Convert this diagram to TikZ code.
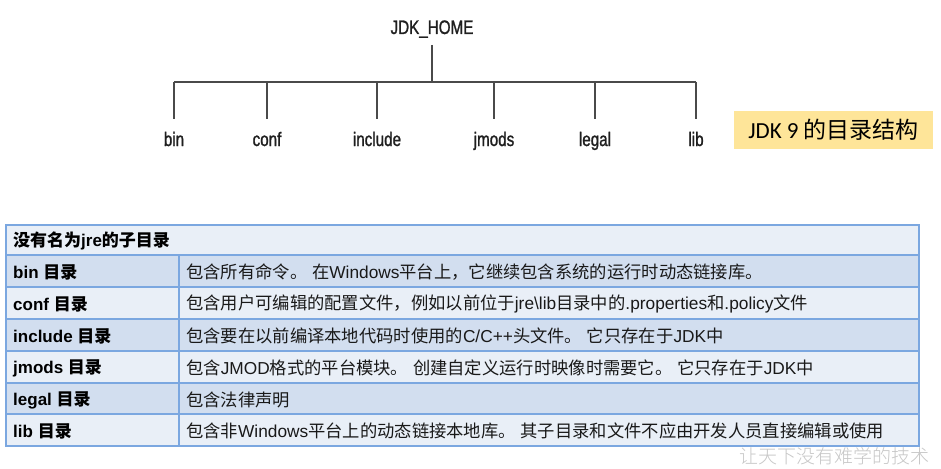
\documentclass[tikz,border=0pt]{standalone}
\usepackage{fontspec}
\setmainfont{Liberation Sans}
\newfontfamily\treefont[FakeStretch=0.78,FakeBold=1.2]{Liberation Sans}
\newfontfamily\cjk{Noto Sans CJK SC}
\newfontfamily\cjkb{Noto Sans CJK SC Bold}
\newfontfamily\capfont{Carlito}
\newfontfamily\wmfont{Noto Sans CJK SC Light}
\definecolor{rowdark}{HTML}{D2DEEF}
\definecolor{rowlight}{HTML}{E9EFF7}
\definecolor{tblborder}{HTML}{7BA7E0}
\definecolor{capbg}{HTML}{FEE599}
\definecolor{treeline}{HTML}{4A4A4A}
\newcommand{\lt}[1]{{\fontsize{17}{20}\selectfont\bfseries #1}}
\newcommand{\rt}[1]{{\fontsize{17.3}{20}\selectfont #1}}
\begin{document}
\begin{tikzpicture}[x=1pt,y=-1pt,
  treelabel/.style={inner sep=0pt,anchor=base,font=\treefont\fontsize{19.5}{22}\selectfont,text=black!88},
  treeedge/.style={draw=treeline,line width=1.7pt},
  leftcell/.style={anchor=west,inner sep=0pt,text=black},
  rightcell/.style={anchor=west,inner sep=0pt,text=black!90}]
\useasboundingbox (0,0) rectangle (941,468);
\fill[white] (0,0) rectangle (941,468);
% tree
\node[treelabel] (root) at (432,34) {JDK\_HOME};
\coordinate (rb) at (432,45);
\coordinate (hj) at (432,82);
\draw[treeedge] (rb) -- (hj);
\foreach \n/\x/\t in {bin/174/bin,conf/267/conf,inc/377/include,jm/494/jmods,leg/595/legal,lib/696/lib}{
  \coordinate (\n top) at (\x,82);
  \coordinate (\n bot) at (\x,119);
  \node[treelabel] (\n) at (\x,146) {\t};
  \draw[treeedge] (\n top) -- (\n bot);
}
\draw[treeedge] (bintop) -- (libtop);
% caption
\node[fill=capbg,minimum width=199pt,minimum height=38pt,inner sep=0pt,
  font=\fontsize{23}{26}\selectfont] (cap) at (833.5,130) {\capfont JDK 9 \cjk 的目录结构};
% table rows
\fill[rowlight] (6,225) rectangle (919,255);
\fill[rowdark] (6,255) rectangle (919,287);
\fill[rowlight] (6,287) rectangle (919,319);
\fill[rowdark] (6,319) rectangle (919,351);
\fill[rowlight] (6,351) rectangle (919,383);
\fill[rowdark] (6,383) rectangle (919,414);
\fill[rowlight] (6,414) rectangle (919,446);
\draw[tblborder,line width=1.4pt] (6,225) rectangle (919,446);
\foreach \y in {255,287,319,351,383,414}{\draw[tblborder,line width=1.4pt] (6,\y) -- (919,\y);}
\draw[tblborder,line width=1.4pt] (179,255) -- (179,446);
% table text
\node[leftcell] (h) at (13,241) {\lt{\cjkb 没有名为}\lt{jre}\lt{\cjkb 的子目录}};
\node[leftcell] (l1) at (13,272) {\lt{bin }\lt{\cjkb 目录}};
\node[leftcell] (l2) at (13,304) {\lt{conf }\lt{\cjkb 目录}};
\node[leftcell] (l3) at (13,336) {\lt{include }\lt{\cjkb 目录}};
\node[leftcell] (l4) at (13,368) {\lt{jmods }\lt{\cjkb 目录}};
\node[leftcell] (l5) at (13,400) {\lt{legal }\lt{\cjkb 目录}};
\node[leftcell] (l6) at (13,431) {\lt{lib }\lt{\cjkb 目录}};
\node[rightcell] (r1) at (186,272) {\rt{{\cjk 包含所有命令。} {\cjk 在}Windows{\cjk 平台上，它继续包含系统的运行时动态链接库。}}};
\node[rightcell] (r2) at (186,304) {\rt{{\cjk 包含用户可编辑的配置文件，例如以前位于}jre\textbackslash lib{\cjk 目录中的}.properties{\cjk 和}.policy{\cjk 文件}}};
\node[rightcell] (r3) at (186,336) {\rt{{\cjk 包含要在以前编译本地代码时使用的}C/C++{\cjk 头文件。} {\cjk 它只存在于}JDK{\cjk 中}}};
\node[rightcell] (r4) at (186,368) {\rt{{\cjk 包含}JMOD{\cjk 格式的平台模块。} {\cjk 创建自定义运行时映像时需要它。} {\cjk 它只存在于}JDK{\cjk 中}}};
\node[rightcell] (r5) at (186,400) {\rt{{\cjk 包含法律声明}}};
\node[rightcell] (r6) at (186,431) {\rt{{\cjk 包含非}Windows{\cjk 平台上的动态链接本地库。} {\cjk 其子目录和文件不应由开发人员直接编辑或使用}}};
% watermark
\node[anchor=east,inner sep=0pt,text=black!22,font=\wmfont\fontsize{19}{21}\selectfont] (wm) at (930,456) {让天下没有难学的技术};
\end{tikzpicture}
\end{document}
